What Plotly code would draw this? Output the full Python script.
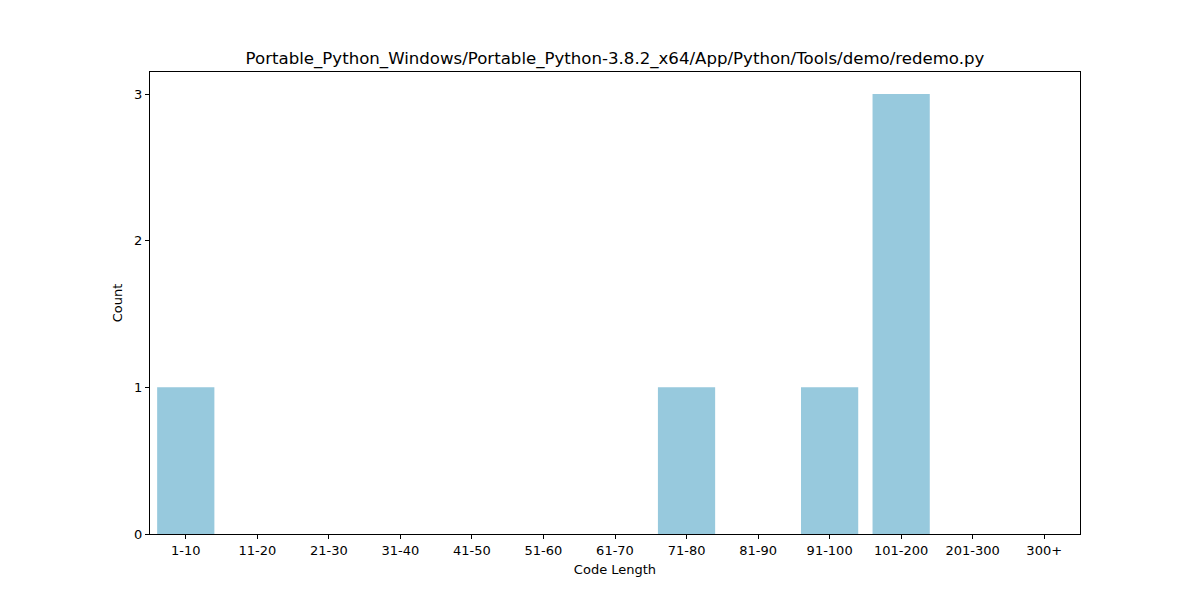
import plotly.graph_objects as go

categories = ["1-10", "11-20", "21-30", "31-40", "41-50", "51-60", "61-70",
              "71-80", "81-90", "91-100", "101-200", "201-300", "300+"]
counts = [1, 0, 0, 0, 0, 0, 0, 1, 0, 1, 3, 0, 0]
title = "Portable_Python_Windows/Portable_Python-3.8.2_x64/App/Python/Tools/demo/redemo.py"

fig = go.Figure(go.Bar(x=categories, y=counts, marker_color="#97c9dd",
                       marker_line_width=0, width=0.8))

axis_common = dict(showline=True, linecolor="black", linewidth=1, mirror=True,
                   ticks="outside", ticklen=4, tickcolor="black", showgrid=False,
                   zeroline=False, tickfont=dict(size=13, color="black"))

fig.update_layout(
    width=1200, height=600,
    margin=dict(l=142, r=128, t=64, b=74),
    paper_bgcolor="white", plot_bgcolor="white",
    font=dict(family="DejaVu Sans", color="black"),
    title=dict(text=title, x=(615 - 8) / 1200, xanchor="center", y=1 - 50/600, yanchor="middle",
               font=dict(size=16.6, color="black")),
    xaxis=dict(range=[-0.5, 12.5], title=dict(text="Code Length", font=dict(size=13), standoff=8),
               **axis_common),
    yaxis=dict(range=[0, 3.15], tickvals=[0, 1, 2, 3],
               title=dict(text="Count", font=dict(size=13), standoff=8), **axis_common),
    showlegend=False,
)

fig.write_html("out.html")
